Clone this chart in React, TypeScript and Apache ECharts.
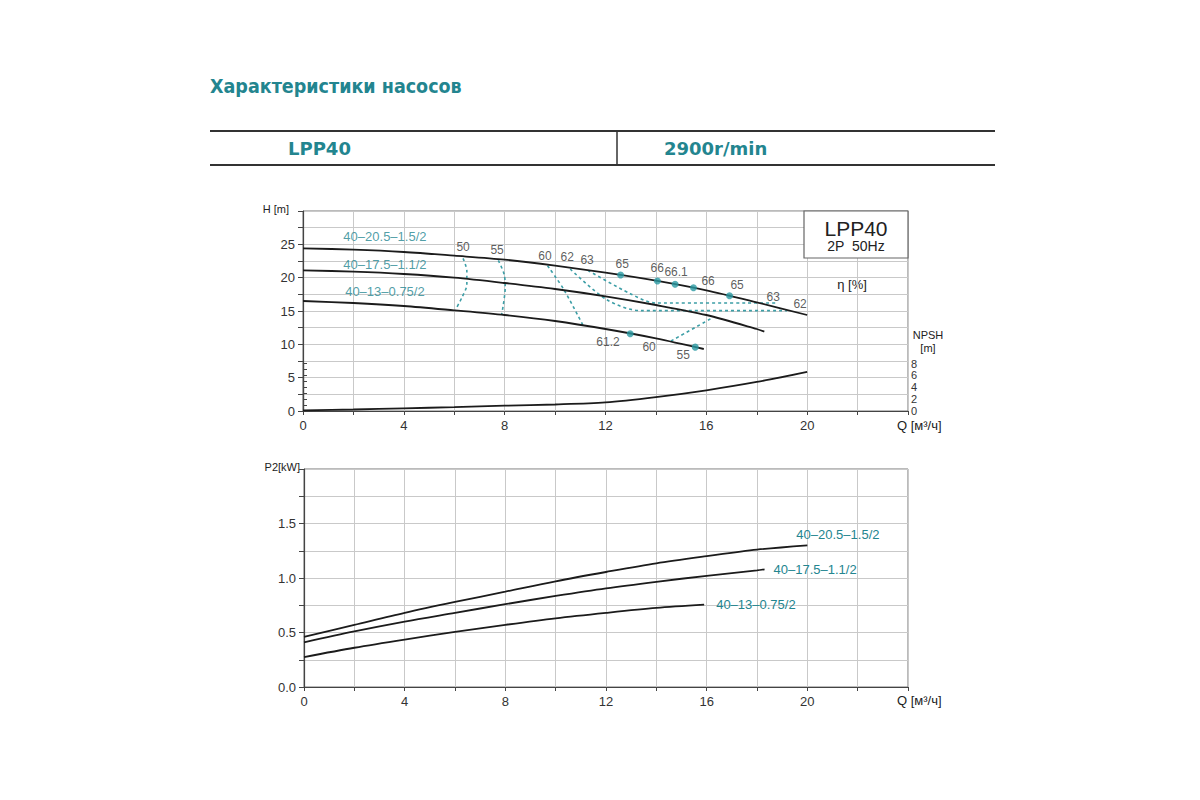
import React, { useEffect, useRef } from "react";
import * as echarts from "echarts";

// ---------- data ----------
const curveNames = ["40–20.5–1.5/2", "40–17.5–1.1/2", "40–13–0.75/2"];

// Q [m3/h], H [m]
const headCurve1 = [[0, 24.4], [2, 24.2], [4, 23.85], [6, 23.3], [8, 22.7], [10, 21.8], [12, 20.75], [14, 19.55], [16, 18.1], [18, 16.3], [20, 14.4]];
const headCurve2 = [[0, 21.1], [2, 20.9], [4, 20.55], [6, 20.0], [8, 19.2], [10, 18.3], [12, 17.2], [14, 15.9], [16, 14.4], [18, 12.3], [18.3, 11.9]];
const headCurve3 = [[0, 16.5], [2, 16.2], [4, 15.75], [6, 15.1], [8, 14.4], [10, 13.5], [12, 12.3], [14, 10.9], [15.9, 9.3]];

// Q, NPSH [m]
const npshCurve = [[0, 0.1], [2, 0.25], [4, 0.45], [6, 0.65], [8, 0.9], [10, 1.1], [12, 1.45], [14, 2.35], [16, 3.5], [18, 4.9], [20, 6.6]];

// Q, P2 [kW]
const powerCurve1 = [[0, 0.46], [2, 0.57], [4, 0.68], [6, 0.78], [8, 0.875], [10, 0.97], [12, 1.055], [14, 1.135], [16, 1.2], [18, 1.26], [20, 1.3]];
const powerCurve2 = [[0, 0.41], [2, 0.51], [4, 0.6], [6, 0.68], [8, 0.76], [10, 0.835], [12, 0.905], [14, 0.965], [16, 1.02], [18, 1.07], [18.3, 1.08]];
const powerCurve3 = [[0, 0.275], [2, 0.36], [4, 0.435], [6, 0.505], [8, 0.57], [10, 0.63], [12, 0.68], [14, 0.725], [15.9, 0.755]];

// efficiency iso-lines (Q, H)
const iso50 = [[6.35, 22.9], [6.5, 21.0], [6.5, 19.0], [6.3, 17.0], [6.05, 15.2]];
const iso55 = [[7.75, 22.6], [7.98, 20.5], [8.02, 18.5], [7.95, 16.0], [7.88, 14.5]];
const iso60a = [[9.7, 21.8], [10.35, 18.2], [11.1, 12.9]];
const iso62 = [[10.6, 21.3], [12.05, 16.7], [13.4, 15.05], [19.2, 15.05]];
const iso63 = [[11.3, 21.1], [12.98, 17.6], [14.0, 16.2], [18.8, 16.2]];
const iso60b = [[14.6, 10.5], [16.25, 14.0]];

// marked efficiency points (Q, H)
const effDots = [[12.6, 20.4], [14.06, 19.5], [14.76, 19.0], [15.49, 18.5], [16.92, 17.3], [12.98, 11.6], [15.56, 9.58]];

// efficiency labels
const effLabelText = ["50", "55", "60", "62", "63", "65", "66", "66.1", "66", "65", "63", "62", "61.2", "60", "55"];
const effLabelQ = [6.35, 7.7, 9.6, 10.48, 11.27, 12.66, 14.05, 14.8, 16.07, 17.22, 18.65, 19.72, 12.1, 13.73, 15.08];
const effLabelH = [24.55, 24.1, 23.2, 23.05, 22.6, 22.0, 21.4, 20.8, 19.46, 18.86, 17.07, 16.0, 10.33, 9.58, 8.38];

// curve name anchors in the H chart
const curveLabelQ = [3.25, 3.25, 3.25];
const curveLabelH = [26.2, 22.0, 18.0];

const TEAL = "#23858f";
const DOT = "#2a9aa3";
const ISO = "#3c9ea6";
const FONT = "'Liberation Sans', Arial, sans-serif";

const npshAxisMax = 33.76;

export default function App() {
  const ref = useRef<HTMLDivElement>(null);

  useEffect(() => {
    if (!ref.current) return;
    const chart = echarts.init(ref.current, undefined, { renderer: "svg" });

    const gridH = { left: 303, top: 211, width: 605, height: 200 };
    const npshH = (gridH.height * 8) / npshAxisMax;

    const xAxisCommon = (gridIndex: number) => ({
      type: "value",
      gridIndex,
      min: 0,
      max: 24,
      interval: 2,
      axisLine: { show: true, onZero: false, lineStyle: { color: "#444", width: 1.2 } },
      axisTick: { show: true, length: 4, lineStyle: { color: "#444" } },
      axisLabel: {
        fontSize: 13,
        color: "#333",
        margin: 8,
        fontFamily: FONT,
        formatter: (v: number) => (v % 4 === 0 && v <= 20 ? String(v) : ""),
      },
      splitLine: { show: true, lineStyle: { color: "#c9c9c9", width: 1 } },
    });

    const isoSeries = (data: number[][]) => ({
      type: "line",
      xAxisIndex: 0,
      yAxisIndex: 0,
      data,
      smooth: 0.3,
      symbol: "none",
      silent: true,
      lineStyle: { color: ISO, width: 1.6, type: [3, 3] },
      z: 3,
    });

    const curveSeries = (data: number[][], xi: number, yi: number, extra: any = {}) => ({
      type: "line",
      xAxisIndex: xi,
      yAxisIndex: yi,
      data,
      smooth: 0.3,
      symbol: "none",
      silent: true,
      lineStyle: { color: "#1b1b1b", width: 1.8 },
      z: 4,
      ...extra,
    });

    const endLabel = (name: string, offset: number[]) => ({
      endLabel: {
        show: true,
        formatter: () => name,
        color: TEAL,
        fontSize: 13,
        fontFamily: FONT,
        distance: 0,
        offset,
      },
    });

    const option: any = {
      animation: false,
      backgroundColor: "#ffffff",
      textStyle: { fontFamily: FONT },
      grid: [
        { ...gridH, show: true, borderColor: "#777", borderWidth: 1 },
        { left: gridH.left, top: gridH.top + gridH.height - npshH, width: gridH.width, height: npshH, show: false },
        { left: 304, top: 469, width: 604, height: 218, show: true, borderColor: "#777", borderWidth: 1 },
      ],
      xAxis: [
        xAxisCommon(0),
        { type: "value", gridIndex: 1, min: 0, max: 24, show: false },
        xAxisCommon(2),
      ],
      yAxis: [
        {
          type: "value",
          gridIndex: 0,
          min: 0,
          max: 30,
          interval: 2.5,
          axisLine: { show: true, lineStyle: { color: "#444", width: 1.2 } },
          axisTick: { show: true, length: 5, lineStyle: { color: "#444" } },
          axisLabel: {
            fontSize: 13,
            color: "#333",
            margin: 8,
            fontFamily: FONT,
            formatter: (v: number) => (v % 5 === 0 && v < 30 ? String(v) : ""),
          },
          splitLine: { show: true, lineStyle: { color: "#c9c9c9", width: 1 } },
        },
        { type: "value", gridIndex: 0, min: 0, max: npshAxisMax, show: false },
        {
          type: "value",
          gridIndex: 1,
          position: "right",
          min: 0,
          max: 8,
          interval: 1,
          axisLine: { show: true, lineStyle: { color: "#444", width: 1.2 } },
          axisTick: { show: true, length: 4, lineStyle: { color: "#444" } },
          axisLabel: {
            fontSize: 11,
            color: "#333",
            margin: 3,
            fontFamily: FONT,
            formatter: (v: number) => (v % 2 === 0 ? String(v) : ""),
          },
          splitLine: { show: false },
        },
        {
          type: "value",
          gridIndex: 2,
          min: 0,
          max: 2,
          interval: 0.25,
          axisLine: { show: true, lineStyle: { color: "#444", width: 1.2 } },
          axisTick: { show: true, length: 5, lineStyle: { color: "#444" } },
          axisLabel: {
            fontSize: 13,
            color: "#333",
            margin: 8,
            fontFamily: FONT,
            formatter: (v: number) =>
              Math.abs(v * 2 - Math.round(v * 2)) < 1e-6 && v < 2 ? v.toFixed(1) : "",
          },
          splitLine: { show: true, lineStyle: { color: "#c9c9c9", width: 1 } },
        },
      ],
      series: [
        isoSeries(iso50),
        isoSeries(iso55),
        isoSeries(iso60a),
        isoSeries(iso62),
        isoSeries(iso63),
        isoSeries(iso60b),
        curveSeries(headCurve1, 0, 0),
        curveSeries(headCurve2, 0, 0),
        curveSeries(headCurve3, 0, 0),
        curveSeries(npshCurve, 0, 1),
        {
          type: "scatter",
          xAxisIndex: 0,
          yAxisIndex: 0,
          data: effDots,
          symbolSize: 7,
          itemStyle: { color: DOT },
          silent: true,
          z: 6,
        },
        {
          type: "scatter",
          xAxisIndex: 0,
          yAxisIndex: 0,
          symbolSize: 0,
          silent: true,
          z: 7,
          data: effLabelText.map((t, i) => ({ name: t, value: [effLabelQ[i], effLabelH[i]] })),
          label: {
            show: true,
            position: "inside",
            formatter: "{b}",
            color: "#333",
            fontSize: 12,
            fontFamily: FONT,
          },
        },
        {
          type: "scatter",
          xAxisIndex: 0,
          yAxisIndex: 0,
          symbolSize: 0,
          silent: true,
          z: 7,
          data: curveNames.map((t, i) => ({ name: t, value: [curveLabelQ[i], curveLabelH[i]] })),
          label: {
            show: true,
            position: "inside",
            formatter: "{b}",
            color: TEAL,
            fontSize: 13,
            fontFamily: FONT,
          },
        },
        curveSeries(powerCurve1, 2, 3, endLabel(curveNames[0], [-11, -11])),
        curveSeries(powerCurve2, 2, 3, endLabel(curveNames[1], [9, 0])),
        curveSeries(powerCurve3, 2, 3, endLabel(curveNames[2], [12, 0])),
      ],
      graphic: [
        {
          type: "text",
          left: 210,
          top: 76,
          style: {
            text: "Характеристики насосов",
            fill: TEAL,
            font: "bold 19.5px 'DejaVu Sans Condensed', 'DejaVu Sans', sans-serif",
          },
        },
        { type: "line", shape: { x1: 210, y1: 131, x2: 995, y2: 131 }, style: { stroke: "#333", lineWidth: 2 } },
        { type: "line", shape: { x1: 210, y1: 165, x2: 995, y2: 165 }, style: { stroke: "#333", lineWidth: 2 } },
        { type: "line", shape: { x1: 617, y1: 131, x2: 617, y2: 165 }, style: { stroke: "#333", lineWidth: 1.5 } },
        {
          type: "text",
          x: 288,
          y: 148,
          style: {
            text: "LPP40",
            fill: TEAL,
            font: "bold 18px 'DejaVu Sans', sans-serif",
            textVerticalAlign: "middle",
          },
        },
        {
          type: "text",
          x: 664,
          y: 148,
          style: {
            text: "2900r/min",
            fill: TEAL,
            font: "bold 18px 'DejaVu Sans', sans-serif",
            textVerticalAlign: "middle",
          },
        },
        {
          type: "rect",
          shape: { x: 804, y: 211, width: 104, height: 47 },
          style: { fill: "#fff", stroke: "#666", lineWidth: 1.2 },
          z: 100,
        },
        {
          type: "text",
          x: 856,
          y: 228,
          z: 101,
          style: { text: "LPP40", fill: "#222", font: `21px ${FONT}`, textAlign: "center", textVerticalAlign: "middle" },
        },
        {
          type: "text",
          x: 856,
          y: 246,
          z: 101,
          style: { text: "2P  50Hz", fill: "#222", font: `14px ${FONT}`, textAlign: "center", textVerticalAlign: "middle" },
        },
        {
          type: "text",
          x: 289,
          y: 209,
          style: { text: "H [m]", fill: "#222", font: `11px ${FONT}`, textAlign: "right", textVerticalAlign: "middle" },
        },
        {
          type: "text",
          x: 300,
          y: 467,
          style: { text: "P2[kW]", fill: "#222", font: `11px ${FONT}`, textAlign: "right", textVerticalAlign: "middle" },
        },
        {
          type: "text",
          x: 852,
          y: 284,
          style: { text: "η [%]", fill: "#222", font: `13px ${FONT}`, textAlign: "center", textVerticalAlign: "middle" },
        },
        {
          type: "text",
          x: 928,
          y: 335,
          style: { text: "NPSH", fill: "#222", font: `11px ${FONT}`, textAlign: "center", textVerticalAlign: "middle" },
        },
        {
          type: "text",
          x: 928,
          y: 348,
          style: { text: "[m]", fill: "#222", font: `11px ${FONT}`, textAlign: "center", textVerticalAlign: "middle" },
        },
        {
          type: "text",
          x: 897,
          y: 425,
          style: { text: "Q [м³/ч]", fill: "#222", font: `13px ${FONT}`, textVerticalAlign: "middle" },
        },
        {
          type: "text",
          x: 897,
          y: 700,
          style: { text: "Q [м³/ч]", fill: "#222", font: `13px ${FONT}`, textVerticalAlign: "middle" },
        },
      ],
    };

    chart.setOption(option);
    return () => chart.dispose();
  }, []);

  return (
    <div
      ref={ref}
      style={{ position: "absolute", left: 0, top: 0, width: 1200, height: 800, background: "#fff" }}
    />
  );
}
